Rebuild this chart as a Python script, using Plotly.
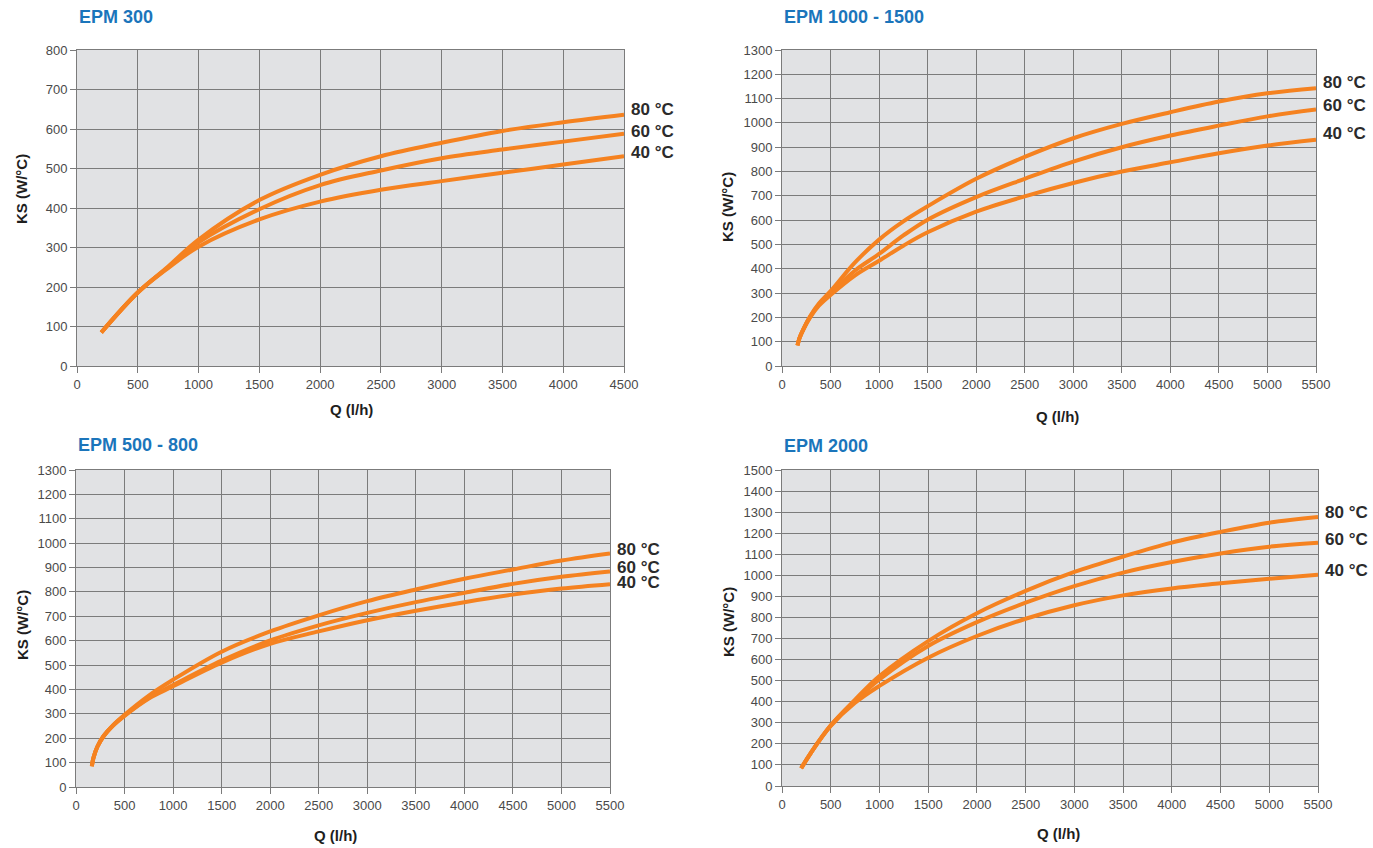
import plotly.graph_objects as go

W, H = 1373, 848

# ---------------- data ----------------
# EPM 300
q_300 = [200, 500, 750, 1000, 1500, 2000, 2500, 3000, 3500, 4000, 4500]
ks_300_80 = [85, 186, 252, 320, 420, 484, 531, 565, 595, 617, 636]
ks_300_60 = [85, 186, 250, 313, 397, 458, 495, 526, 548, 568, 588]
ks_300_40 = [85, 186, 248, 302, 371, 416, 446, 468, 489, 510, 531]

# EPM 1000 - 1500
q_1000 = [160, 180, 220, 290, 380, 500, 750, 1000, 1250, 1500, 2000, 2500, 3000, 3500, 4000, 4500, 5000, 5500]
ks_1000_80 = [85, 115, 152, 205, 257, 308, 425, 520, 595, 657, 770, 860, 937, 996, 1044, 1088, 1122, 1143]
ks_1000_60 = [85, 115, 151, 203, 253, 300, 392, 461, 537, 602, 695, 770, 841, 900, 948, 989, 1027, 1055]
ks_1000_40 = [85, 115, 150, 200, 248, 292, 372, 433, 495, 550, 635, 698, 753, 800, 838, 875, 907, 931]

# EPM 500 - 800
q_500 = [163, 180, 220, 283, 380, 500, 750, 1000, 1500, 2000, 2500, 3000, 3500, 4000, 4500, 5000, 5500]
ks_500_80 = [85, 120, 165, 208, 253, 296, 375, 440, 555, 638, 704, 762, 810, 854, 892, 929, 958]
ks_500_60 = [85, 120, 165, 208, 252, 293, 366, 418, 518, 601, 663, 714, 758, 796, 833, 862, 884]
ks_500_40 = [85, 120, 165, 208, 251, 292, 363, 413, 510, 587, 638, 684, 723, 758, 789, 814, 832]

# EPM 2000
q_2000 = [197, 300, 500, 750, 1000, 1500, 2000, 2500, 3000, 3500, 4000, 4500, 5000, 5500]
ks_2000_80 = [84, 160, 288, 410, 522, 688, 820, 926, 1016, 1089, 1155, 1206, 1250, 1277]
ks_2000_60 = [84, 160, 287, 405, 506, 665, 778, 870, 949, 1013, 1063, 1104, 1136, 1155]
ks_2000_40 = [84, 160, 285, 395, 475, 609, 712, 794, 858, 905, 938, 962, 984, 1003]

titles = ["EPM 300", "EPM 1000 - 1500", "EPM 500 - 800", "EPM 2000"]
temp_labels = ["80 °C", "60 °C", "40 °C"]
x_max = [4500, 5500, 5500, 5500]
y_max = [800, 1300, 1300, 1500]
x_title = "Q (l/h)"
y_title = "KS (W/°C)"

# ---------------- layout specs (page pixels) ----------------
charts = [
    dict(q=q_300, ks=[ks_300_80, ks_300_60, ks_300_40],
         px=(77, 624), py=(50, 366), title_y=17, ytitle=(22, 189), xtitle=(351, 410),
         lab_shift=[5, 2, 4]),
    dict(q=q_1000, ks=[ks_1000_80, ks_1000_60, ks_1000_40],
         px=(782, 1316), py=(50, 366), title_y=17, ytitle=(727, 207), xtitle=(1057, 416),
         lab_shift=[6, 4, 6]),
    dict(q=q_500, ks=[ks_500_80, ks_500_60, ks_500_40],
         px=(76, 610), py=(470, 787), title_y=445, ytitle=(22, 625), xtitle=(335, 835),
         lab_shift=[4, 4, 2]),
    dict(q=q_2000, ks=[ks_2000_80, ks_2000_60, ks_2000_40],
         px=(782, 1318), py=(470, 786), title_y=446, ytitle=(728, 622), xtitle=(1058, 833),
         lab_shift=[4, 3, 4]),
]


def fx(p):
    return p / W


def fy(p):
    return 1 - p / H


ORANGE = "#F58220"
GRID = "#7b7b7b"
BG = "#E1E2E4"
TICKFONT = dict(family="Liberation Sans Narrow, Arial Narrow, Liberation Sans, Arial, sans-serif",
                size=13, color="#4a4a4a")
BOLD = "Liberation Sans, Arial, sans-serif"

fig = go.Figure()
layout = dict(width=W, height=H, margin=dict(l=0, r=0, t=0, b=0, pad=0, autoexpand=False),
              paper_bgcolor="white", showlegend=False, annotations=[], shapes=[])

for i, c in enumerate(charts):
    n = "" if i == 0 else str(i + 1)
    xa, ya = "x" + n, "y" + n
    for k, ks in enumerate(c["ks"]):
        fig.add_trace(go.Scatter(x=c["q"], y=ks, mode="lines", xaxis=xa, yaxis=ya,
                                 line=dict(color=ORANGE, width=4, shape="spline", smoothing=1.0),
                                 hoverinfo="skip"))
        layout["annotations"].append(dict(
            x=x_max[i], y=ks[-1], xref=xa, yref=ya, text="<b>%s</b>" % temp_labels[k],
            showarrow=False, xanchor="left", yanchor="middle", xshift=5, yshift=c["lab_shift"][k],
            font=dict(family=BOLD, size=17, color="#2b2b2b")))
    x0, x1 = c["px"]
    y0, y1 = c["py"]
    common = dict(showgrid=True, gridcolor=GRID, gridwidth=1, showline=True, linecolor=GRID,
                  linewidth=1, mirror=True, ticks="outside", ticklen=6, tickcolor=GRID,
                  tickwidth=1, tickfont=TICKFONT, zeroline=False, fixedrange=True,
                  automargin=False)
    layout["xaxis" + n] = dict(domain=[fx(x0), fx(x1)], anchor=ya, range=[0, x_max[i]],
                               dtick=500, tick0=0, **common)
    layout["yaxis" + n] = dict(domain=[fy(y1), fy(y0)], anchor=xa, range=[0, y_max[i]],
                               dtick=100, tick0=0, **common)
    layout["shapes"].append(dict(type="rect", xref="paper", yref="paper",
                                 x0=fx(x0), x1=fx(x1), y0=fy(y1), y1=fy(y0),
                                 fillcolor=BG, line=dict(width=0), layer="below"))
    # chart title
    layout["annotations"].append(dict(
        x=fx(x0), y=fy(c["title_y"]), xref="paper", yref="paper", text="<b>%s</b>" % titles[i],
        showarrow=False, xanchor="left", yanchor="middle",
        font=dict(family=BOLD, size=18, color="#1B75BB")))
    # axis titles
    layout["annotations"].append(dict(
        x=fx(c["xtitle"][0]), y=fy(c["xtitle"][1]), xref="paper", yref="paper",
        text="<b>%s</b>" % x_title, showarrow=False, xanchor="center", yanchor="middle",
        font=dict(family=BOLD, size=15, color="#1e1e1e")))
    layout["annotations"].append(dict(
        x=fx(c["ytitle"][0]), y=fy(c["ytitle"][1]), xref="paper", yref="paper",
        text="<b>%s</b>" % y_title, showarrow=False, xanchor="center", yanchor="middle",
        textangle=-90, font=dict(family=BOLD, size=15, color="#1e1e1e")))

layout["plot_bgcolor"] = BG
fig.update_layout(**layout)
fig.write_html("out.html", config={"displayModeBar": False},
               post_script="document.body.style.margin='0';document.body.style.overflow='hidden';")
